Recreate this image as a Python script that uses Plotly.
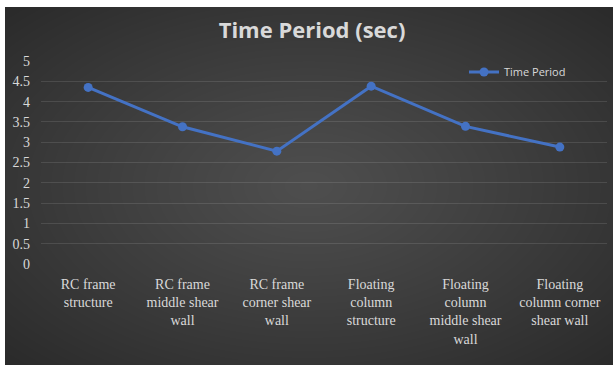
import base64
import struct
import zlib

import numpy as np
import plotly.graph_objects as go

# Data
categories = [
    "RC frame<br>structure",
    "RC frame<br>middle shear<br>wall",
    "RC frame<br>corner shear<br>wall",
    "Floating<br>column<br>structure",
    "Floating<br>column<br>middle shear<br>wall",
    "Floating<br>column corner<br>shear wall",
]
time_period = [4.35, 3.38, 2.78, 4.38, 3.39, 2.88]
y_ticks = [0, 0.5, 1, 1.5, 2, 2.5, 3, 3.5, 4, 4.5, 5]
y_tick_text = ["0", "0.5", "1", "1.5", "2", "2.5", "3", "3.5", "4", "4.5", "5"]

W, H = 613, 365
# plot area in pixels
L, R, T, B = 41, 607, 61, 264
EDGE = (42, 42, 42)


def radial_png(w, h, inner=(78, 78, 78), outer=EDGE):
    """Build a PNG with a radial gradient from the centre outwards."""
    yy, xx = np.mgrid[0:h, 0:w]
    cx, cy = (w - 1) / 2, (h - 1) / 2
    r = np.sqrt(((xx - cx) / (w / 2)) ** 2 + ((yy - cy) / (h / 2)) ** 2) / np.sqrt(2)
    r = np.clip(r, 0, 1) ** 1.1
    img = np.zeros((h, w, 3), dtype=np.uint8)
    for c in range(3):
        img[..., c] = np.round(inner[c] + (outer[c] - inner[c]) * r).astype(np.uint8)
    raw = b"".join(b"\x00" + img[i].tobytes() for i in range(h))

    def chunk(tag, data):
        return (struct.pack(">I", len(data)) + tag + data
                + struct.pack(">I", zlib.crc32(tag + data) & 0xFFFFFFFF))

    png = (b"\x89PNG\r\n\x1a\n"
           + chunk(b"IHDR", struct.pack(">IIBBBBB", w, h, 8, 2, 0, 0, 0))
           + chunk(b"IDAT", zlib.compress(raw, 9))
           + chunk(b"IEND", b""))
    return "data:image/png;base64," + base64.b64encode(png).decode()


pw, ph = R - L, B - T
def px_to_paper_x(px):
    return (px - L) / pw


def px_to_paper_y(py):
    return (B - py) / ph


panel_x0, panel_x1 = 5, 613
panel_y0, panel_y1 = 7, 365

fig = go.Figure()
fig.add_trace(go.Scatter(
    x=categories,
    y=time_period,
    mode="lines+markers",
    name="Time Period",
    line=dict(color="#4472C4", width=3),
    marker=dict(color="#4472C4", size=9),
))

fig.add_layout_image(dict(
    source=radial_png(panel_x1 - panel_x0, panel_y1 - panel_y0),
    xref="paper", yref="paper",
    x=px_to_paper_x(panel_x0), y=px_to_paper_y(panel_y0),
    sizex=(panel_x1 - panel_x0) / pw, sizey=(panel_y1 - panel_y0) / ph,
    xanchor="left", yanchor="top",
    sizing="stretch", layer="below",
))

# white page strips left and above the dark panel
for x0, x1, y0, y1 in [(0, panel_x0, 0, H), (0, W, 0, panel_y0)]:
    fig.add_shape(
        type="rect", xref="paper", yref="paper",
        x0=px_to_paper_x(x0), x1=px_to_paper_x(x1),
        y0=px_to_paper_y(y1), y1=px_to_paper_y(y0),
        fillcolor="white", line=dict(width=0), layer="above",
    )

fig.update_layout(
    width=W, height=H,
    margin=dict(l=L, r=W - R, t=T, b=H - B),
    paper_bgcolor="rgb(%d,%d,%d)" % EDGE,
    plot_bgcolor="rgba(0,0,0,0)",
    title=dict(
        text="<b>Time Period (sec)</b>",
        x=312 / W, xref="container", xanchor="center",
        y=1 - 30 / H, yref="container", yanchor="middle",
        font=dict(family="Open Sans", size=22, color="#d9d9d9"),
    ),
    showlegend=True,
    legend=dict(
        x=px_to_paper_x(464), y=px_to_paper_y(72),
        xanchor="left", yanchor="middle",
        bgcolor="rgba(0,0,0,0)",
        font=dict(family="Open Sans", size=11, color="#d9d9d9"),
    ),
    xaxis=dict(
        type="category",
        range=[-0.5, len(categories) - 0.5],
        showgrid=False, zeroline=False, showline=False,
        ticks="", ticklabelstandoff=10,
        tickfont=dict(family="Liberation Serif", size=14, color="#d9d9d9"),
    ),
    yaxis=dict(
        range=[0, 5],
        tickvals=y_ticks, ticktext=y_tick_text,
        showgrid=True, gridcolor="rgba(255,255,255,0.11)", gridwidth=1,
        zeroline=False, showline=False,
        ticks="", ticklabelstandoff=10,
        tickfont=dict(family="Liberation Serif", size=14, color="#d9d9d9"),
    ),
)

fig.write_html("out.html")
